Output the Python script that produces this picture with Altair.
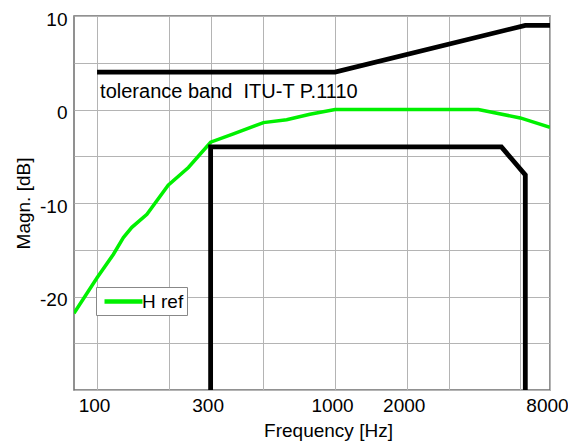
import altair as alt
import pandas as pd

# ---- data ----
upper_f = [100, 1000, 6300, 8000]
upper_db = [4, 4, 9, 9]

lower_f = [300, 300, 5000, 6300, 6300]
lower_db = [-40, -4, -4, -7, -40]

href_f = [80, 100, 117, 129, 140, 162, 199, 242, 300, 374, 500, 626, 784, 1000, 4000, 6000, 8000]
href_db = [-21.8, -18.0, -15.5, -13.7, -12.6, -11.2, -8.1, -6.2, -3.5, -2.6, -1.4, -1.1, -0.5, 0.0, 0.0, -0.9, -1.9]

label_f = [103]
label_db = [1.9]
label_txt = ["tolerance band\u00a0 ITU-T P.1110"]

x_grid_values = [100, 200, 300, 500, 1000, 2000, 3000, 6000, 8000]
x_label_values = [100, 300, 1000, 2000, 8000]
y_values = [-30, -25, -20, -15, -10, -5, 0, 5, 10]
y_label_values = [-20, -10, 0, 10]

upper = pd.DataFrame({"f": upper_f, "db": upper_db})
lower = pd.DataFrame({"f": lower_f, "db": lower_db})
href = pd.DataFrame({"f": href_f, "db": href_db, "series": ["H ref"] * len(href_f)})
lab = pd.DataFrame({"f": label_f, "db": label_db, "t": label_txt})

FONT = "Liberation Sans"

x_enc = alt.X(
    "f:Q",
    scale=alt.Scale(type="log", domain=[80, 8000], nice=False),
    axis=alt.Axis(
        values=x_grid_values,
        labelExpr="indexof([" + ",".join(str(v) for v in x_label_values) + "], datum.value) >= 0 ? datum.value : ''",
        title="Frequency [Hz]",
        titleX=254,
        titlePadding=6,
        labelPadding=6,
        labelOffset=-3,
        ticks=False,
        grid=True,
        gridColor="#b4b4b4",
        gridWidth=1,
        domain=False,
        labelFlush=False,
        labelOverlap=False,
    ),
)
y_enc = alt.Y(
    "db:Q",
    scale=alt.Scale(domain=[-30, 10], nice=False, zero=False),
    axis=alt.Axis(
        values=y_values,
        labelExpr="indexof([" + ",".join(str(v) for v in y_label_values) + "], datum.value) >= 0 ? datum.value : ''",
        title="Magn. [dB]",
        titlePadding=6,
        labelPadding=7,
        labelOffset=3,
        ticks=False,
        grid=True,
        gridColor="#b4b4b4",
        gridWidth=1,
        domain=False,
        labelFlush=False,
        labelOverlap=False,
    ),
)

upper_line = alt.Chart(upper).mark_line(color="black", strokeWidth=4.8, clip=True).encode(x=x_enc, y=y_enc)
lower_line = alt.Chart(lower).mark_line(color="black", strokeWidth=4.8, clip=True).encode(x=x_enc, y=y_enc)
href_line = alt.Chart(href).mark_line(strokeWidth=3.5, clip=True).encode(
    x=x_enc,
    y=y_enc,
    color=alt.Color(
        "series:N",
        scale=alt.Scale(domain=["H ref"], range=["#00f000"]),
        legend=alt.Legend(
            title=None,
            orient="none",
            legendX=22,
            legendY=271,
            symbolType="M-2.11,0H2.11",
            symbolStrokeWidth=4.5,
            symbolSize=324,
            symbolFillColor="transparent",
            labelFontSize=19,
            labelFont=FONT,
            labelColor="black",
            labelOffset=7,
            labelExpr="datum.label + '\u00a0'",
            padding=3,
            symbolOffset=13,
            strokeColor="#888",
            fillColor="white",
            cornerRadius=0,
        ),
    ),
)
text = alt.Chart(lab).mark_text(align="left", baseline="middle", fontSize=20, font=FONT, color="black").encode(
    x=x_enc, y=y_enc, text="t:N"
)

chart = (
    alt.layer(href_line, upper_line, lower_line, text)
    .properties(
        width=476,
        height=374,
        background="white",
        autosize=alt.AutoSizeParams(type="none"),
        padding={"left": 66, "top": 8, "right": 18, "bottom": 56},
    )
    .configure_view(stroke="#6e6e6e", strokeWidth=1.5)
    .configure_axis(
        labelFont=FONT,
        titleFont=FONT,
        labelFontSize=19,
        titleFontSize=19,
        titleFontWeight="normal",
        labelColor="black",
        titleColor="black",
    )
)

chart.save("out.html", embed_options={"renderer": "svg", "actions": False})
